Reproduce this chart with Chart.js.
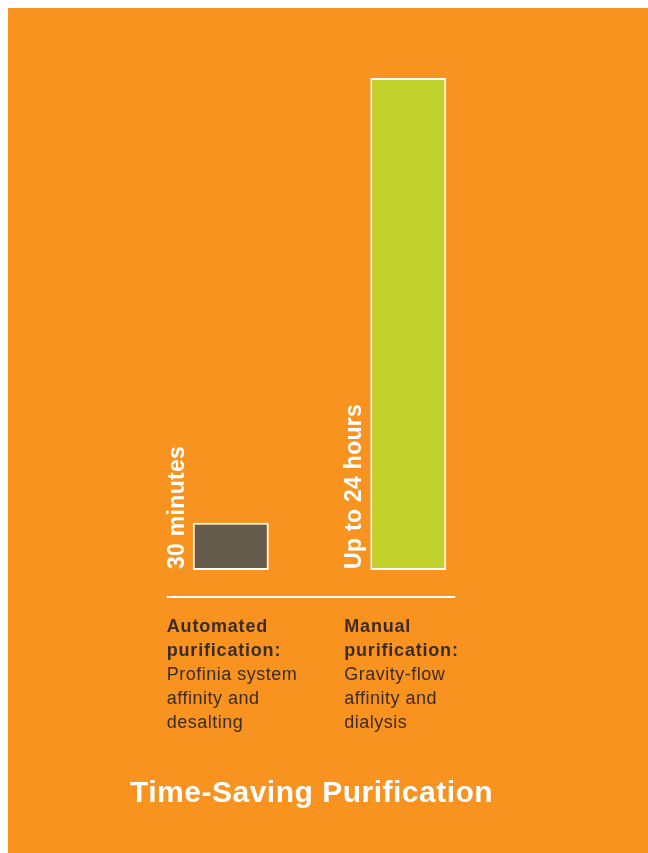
<!DOCTYPE html>
<html>
<head>
<meta charset="utf-8">
<script src="https://cdn.jsdelivr.net/npm/chart.js@4/dist/chart.umd.min.js"></script>
<style>
  html, body { margin: 0; padding: 0; background: #ffffff; }
  canvas { display: block; }
</style>
</head>
<body>
<canvas id="chart" width="648" height="853"></canvas>
<script>
// categories and values (bar heights, manual bar = 24)
const categories = ['Automated', 'Manual'];
const durations = [2.3, 24];
const durationLabels = ['30 minutes', 'Up to 24 hours'];
const methodTitles = [['Automated', 'purification:'], ['Manual', 'purification:']];
const methodNotes = [['Profinia system', 'affinity and', 'desalting'], ['Gravity-flow', 'affinity and', 'dialysis']];
const chartTitle = 'Time-Saving Purification';

const ORANGE = '#F7931E';
const TEXT_DARK = '#3D2B22';

const backdrop = {
    id: 'backdrop',
    beforeDraw(chart) {
        const ctx = chart.ctx;
        ctx.save();
        ctx.fillStyle = '#ffffff';
        ctx.fillRect(0, 0, chart.width, chart.height);
        ctx.fillStyle = ORANGE;
        ctx.fillRect(8, 8, chart.width - 8, chart.height - 8);
        ctx.restore();
    }
};

const annotations = {
    id: 'annotations',
    afterDraw(chart) {
        const ctx = chart.ctx;
        const bars = chart.getDatasetMeta(0).data;
        const area = chart.chartArea;
        ctx.save();

        // baseline rule under the bars
        const firstLeft = bars[0].x - bars[0].width / 2 - 26;
        const lastRight = bars[bars.length - 1].x + bars[bars.length - 1].width / 2 + 9;
        ctx.strokeStyle = '#ffffff';
        ctx.lineWidth = 2;
        ctx.beginPath();
        ctx.moveTo(firstLeft, area.bottom + 27);
        ctx.lineTo(lastRight, area.bottom + 27);
        ctx.stroke();

        bars.forEach((bar, i) => {
            const left = bar.x - bar.width / 2;

            // rotated duration label beside each bar
            ctx.save();
            ctx.translate(left - 9, area.bottom - 1);
            ctx.rotate(-Math.PI / 2);
            ctx.fillStyle = '#ffffff';
            ctx.letterSpacing = '0.3px';
            ctx.font = 'bold 23px "Liberation Sans", Arial, sans-serif';
            ctx.textAlign = 'left';
            ctx.textBaseline = 'alphabetic';
            ctx.fillText(durationLabels[i], 0, 0);
            ctx.restore();

            // category description under the rule
            const x = left - 26;
            let y = area.bottom + 62;
            ctx.fillStyle = TEXT_DARK;
            ctx.textAlign = 'left';
            ctx.textBaseline = 'alphabetic';
            ctx.letterSpacing = '0.8px';
            ctx.font = 'bold 18px "Liberation Sans", Arial, sans-serif';
            methodTitles[i].forEach(line => { ctx.fillText(line, x, y); y += 24; });
            ctx.letterSpacing = '0.5px';
            ctx.font = '18px "Liberation Sans", Arial, sans-serif';
            methodNotes[i].forEach(line => { ctx.fillText(line, x, y); y += 24; });
        });

        // title
        ctx.fillStyle = '#ffffff';
        ctx.letterSpacing = '0.5px';
        ctx.font = 'bold 30px "Liberation Sans", Arial, sans-serif';
        ctx.textAlign = 'left';
        ctx.fillText(chartTitle, 130, 802);
        ctx.restore();
    }
};

new Chart(document.getElementById('chart'), {
    type: 'bar',
    data: {
        labels: categories,
        datasets: [{
            data: durations,
            backgroundColor: ['#655C4B', '#C0D22B'],
            borderColor: '#ffffff',
            borderWidth: 2,
            borderSkipped: false,
            barPercentage: 0.62,
            categoryPercentage: 0.69
        }]
    },
    options: {
        responsive: false,
        animation: false,
        layout: { padding: { left: 142, right: 151, top: 78, bottom: 283 } },
        plugins: {
            legend: { display: false },
            tooltip: { enabled: false },
            title: { display: false }
        },
        scales: {
            x: { display: false },
            y: { display: false, min: 0, max: 24 }
        }
    },
    plugins: [backdrop, annotations]
});
</script>
</body>
</html>
